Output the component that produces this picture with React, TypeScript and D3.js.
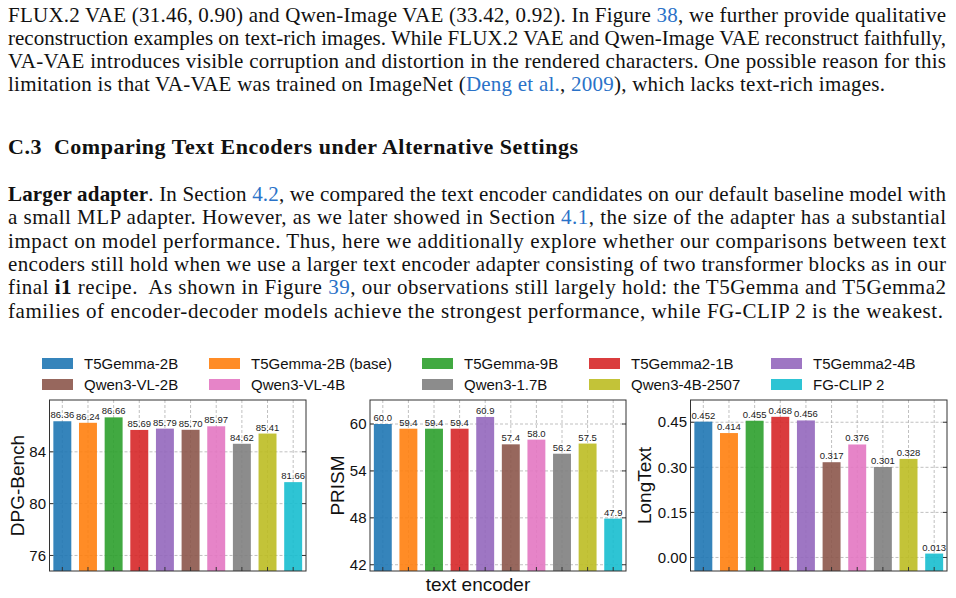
import React from "react";
import * as d3 from "d3";

const encoders = [
  "T5Gemma-2B",
  "T5Gemma-2B (base)",
  "T5Gemma-9B",
  "T5Gemma2-1B",
  "T5Gemma2-4B",
  "Qwen3-VL-2B",
  "Qwen3-VL-4B",
  "Qwen3-1.7B",
  "Qwen3-4B-2507",
  "FG-CLIP 2",
];
const colors = [
  "#1f77b4", "#ff7f0e", "#2ca02c", "#d62728", "#9467bd",
  "#8c564b", "#e377c2", "#7f7f7f", "#bcbd22", "#17becf",
];
const dpgValues = [86.36, 86.24, 86.66, 85.69, 85.79, 85.7, 85.97, 84.62, 85.41, 81.66];
const prismValues = [60.0, 59.4, 59.4, 59.4, 60.9, 57.4, 58.0, 56.2, 57.5, 47.9];
const longTextValues = [0.452, 0.414, 0.455, 0.468, 0.456, 0.317, 0.376, 0.301, 0.328, 0.013];
const dpgTicks = [76, 80, 84];
const prismTicks = [42, 48, 54, 60];
const longTextTicks = [0, 0.15, 0.3, 0.45];

type Seg = { t: string; s?: "b" | "l" };
type Line = { segs: Seg[]; y: number; w?: number; size?: number };

const LINK = "#2a72c8";
const para1: Line[] = [
  { y: 21.5, w: 938, segs: [{ t: "FLUX.2 VAE (31.46, 0.90) and Qwen-Image VAE (33.42, 0.92). In Figure " }, { t: "38", s: "l" }, { t: ", we further provide qualitative" }] },
  { y: 44.8, w: 938, segs: [{ t: "reconstruction examples on text-rich images. While FLUX.2 VAE and Qwen-Image VAE reconstruct faithfully," }] },
  { y: 68.1, w: 938, segs: [{ t: "VA-VAE introduces visible corruption and distortion in the rendered characters. One possible reason for this" }] },
  { y: 91.4, w: 877, segs: [{ t: "limitation is that VA-VAE was trained on ImageNet (" }, { t: "Deng et al.", s: "l" }, { t: ", " }, { t: "2009", s: "l" }, { t: "), which lacks text-rich images." }] },
];
const heading: Line = { y: 154, w: 570, size: 22, segs: [{ t: "C.3\u00a0\u00a0Comparing Text Encoders under Alternative Settings", s: "b" }] };
const para2: Line[] = [
  { y: 200.9, w: 938, segs: [{ t: "Larger adapter", s: "b" }, { t: ". In Section " }, { t: "4.2", s: "l" }, { t: ", we compared the text encoder candidates on our default baseline model with" }] },
  { y: 224.2, w: 938, segs: [{ t: "a small MLP adapter. However, as we later showed in Section " }, { t: "4.1", s: "l" }, { t: ", the size of the adapter has a substantial" }] },
  { y: 247.6, w: 938, segs: [{ t: "impact on model performance. Thus, here we additionally explore whether our comparisons between text" }] },
  { y: 270.9, w: 938, segs: [{ t: "encoders still hold when we use a larger text encoder adapter consisting of two transformer blocks as in our" }] },
  { y: 294.2, w: 938, segs: [{ t: "final " }, { t: "i1", s: "b" }, { t: " recipe.\u00a0 As shown in Figure " }, { t: "39", s: "l" }, { t: ", our observations still largely hold: the T5Gemma and T5Gemma2" }] },
  { y: 317.5, w: 935, segs: [{ t: "families of encoder-decoder models achieve the strongest performance, while FG-CLIP 2 is the weakest." }] },
];

const SERIF = "'Liberation Serif', 'Times New Roman', serif";
const SANS = "'Liberation Sans', Arial, Helvetica, sans-serif";

function TextLine({ line }: { line: Line }) {
  return (
    <text
      x={8}
      y={line.y}
      fontFamily={SERIF}
      fontSize={line.size ?? 21}
      fill="#111"
      textLength={line.w}
      lengthAdjust="spacing"
      fontWeight={line.size ? "bold" : "normal"}
    >
      {line.segs.map((s, i) => (
        <tspan key={i} fontWeight={s.s === "b" ? "bold" : undefined} fill={s.s === "l" ? LINK : undefined}>
          {s.t}
        </tspan>
      ))}
    </text>
  );
}

const TOP = 400;
const BOTTOM = 571;

const panels = [
  { name: "DPG-Bench", values: dpgValues, ticks: dpgTicks, domain: [74.8, 88.0], fmt: (d: number) => String(d), lab: (d: number) => d.toFixed(2), x0: 49.5, x1: 306, ylx: 17 },
  { name: "PRISM", values: prismValues, ticks: prismTicks, domain: [41.2, 63.07], fmt: (d: number) => String(d), lab: (d: number) => d.toFixed(1), x0: 370, x1: 626, ylx: 337 },
  { name: "LongText", values: longTextValues, ticks: longTextTicks, domain: [-0.045, 0.524], fmt: (d: number) => d.toFixed(2), lab: (d: number) => d.toFixed(3), x0: 690.5, x1: 947, ylx: 644.5 },
];

function Panel({ p }: { p: (typeof panels)[number] }) {
  const x = d3.scaleLinear().domain([-0.5, encoders.length - 0.5]).range([p.x0, p.x1]);
  const y = d3.scaleLinear().domain(p.domain).range([BOTTOM, TOP]);
  const bw = x(0.35) - x(0);
  const idx = d3.range(encoders.length);
  return (
    <g>
      {p.ticks.map((t) => (
        <line key={"gy" + t} x1={p.x0} x2={p.x1} y1={y(t)} y2={y(t)} stroke="#b0b0b0" strokeWidth={0.8} strokeDasharray="3,2" />
      ))}
      {idx.map((i) => (
        <line key={"gx" + i} x1={x(i)} x2={x(i)} y1={TOP} y2={BOTTOM} stroke="#b0b0b0" strokeWidth={0.8} strokeDasharray="3,2" />
      ))}
      {idx.map((i) => {
        const v = p.values[i];
        const yt = y(v);
        return (
          <rect key={"b" + i} x={x(i) - bw} width={bw * 2} y={yt} height={BOTTOM - yt} fill={colors[i]} fillOpacity={0.9} />
        );
      })}
      {idx.map((i) => (
        <text key={"l" + i} x={x(i)} y={y(p.values[i]) - 3} textAnchor="middle" fontFamily={SANS} fontSize={9.5} fill="#222">
          {p.lab(p.values[i])}
        </text>
      ))}
      {p.ticks.map((t) => (
        <g key={"t" + t}>
          <line x1={p.x0} x2={p.x0 + 4} y1={y(t)} y2={y(t)} stroke="#333" strokeWidth={1} />
          <line x1={p.x1} x2={p.x1 - 4} y1={y(t)} y2={y(t)} stroke="#333" strokeWidth={1} />
          <text x={p.x0 - 3.5} y={y(t)} dy="0.35em" textAnchor="end" fontFamily={SANS} fontSize={15} fill="#111">
            {p.fmt(t)}
          </text>
        </g>
      ))}
      {idx.map((i) => (
        <line key={"xt" + i} x1={x(i)} x2={x(i)} y1={BOTTOM} y2={BOTTOM - 4} stroke="#333" strokeWidth={1} />
      ))}
      <rect x={p.x0} y={TOP} width={p.x1 - p.x0} height={BOTTOM - TOP} fill="none" stroke="#333" strokeWidth={1} />
      <text
        transform={`translate(${p.ylx},${(TOP + BOTTOM) / 2}) rotate(-90)`}
        textAnchor="middle"
        dy="0.35em"
        fontFamily={SANS}
        fontSize={19}
        fill="#111"
      >
        {p.name}
      </text>
    </g>
  );
}

const legendCols = [42, 209, 422, 589, 771];
const legendRows = [363.5, 384.5];

export default function App() {
  return (
    <svg width={956} height={598} style={{ position: "absolute", left: 0, top: 0, background: "#fff" }}>
      <rect width={956} height={598} fill="#fff" />
      {para1.map((l, i) => (
        <TextLine key={"p1" + i} line={l} />
      ))}
      <TextLine line={heading} />
      {para2.map((l, i) => (
        <TextLine key={"p2" + i} line={l} />
      ))}
      {encoders.map((e, i) => {
        const col = i % 5;
        const row = Math.floor(i / 5);
        const lx = legendCols[col];
        const ly = legendRows[row];
        return (
          <g key={"lg" + i}>
            <rect x={lx} y={ly - 5.5} width={31} height={11} fill={colors[i]} fillOpacity={0.9} />
            <text x={lx + 42} y={ly} dy="0.35em" fontFamily={SANS} fontSize={15} fill="#111">
              {e}
            </text>
          </g>
        );
      })}
      {panels.map((p) => (
        <Panel key={p.name} p={p} />
      ))}
      <text x={478} y={591} textAnchor="middle" fontFamily={SANS} fontSize={19} fill="#111">
        text encoder
      </text>
    </svg>
  );
}
